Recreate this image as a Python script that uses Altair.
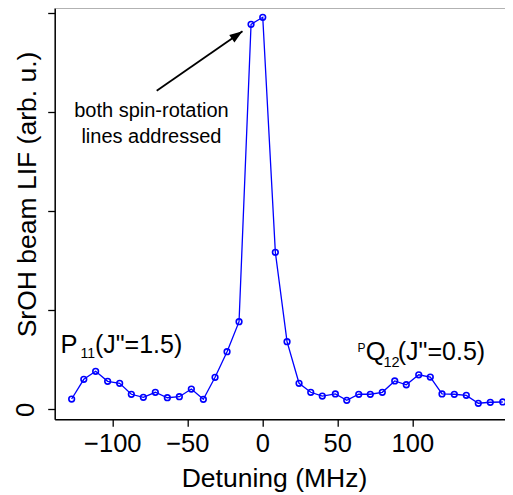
import math
import altair as alt
import pandas as pd

# ---------------- data ----------------
detuning = [-127.1, -119.0, -111.1, -103.1, -95.1, -87.3, -79.3, -71.3, -63.3, -55.3,
            -47.3, -39.3, -31.5, -23.5, -15.5, -7.5, 0.3, 8.7, 16.5, 24.5,
            32.3, 40.0, 48.7, 56.3, 64.3, 72.0, 80.0, 88.3, 96.0, 104.3,
            112.0, 119.8, 128.0, 136.0, 144.0, 152.0, 160.3]
lif = [0.104, 0.303, 0.384, 0.283, 0.263, 0.152, 0.121, 0.172, 0.117, 0.127,
       0.205, 0.101, 0.323, 0.582, 0.885, 3.889, 3.960, 1.586, 0.683, 0.263,
       0.172, 0.134, 0.155, 0.091, 0.152, 0.152, 0.172, 0.286, 0.248, 0.349,
       0.326, 0.155, 0.152, 0.141, 0.061, 0.071, 0.074]

x_ticks = [-100, -50, 0, 50, 100]
y_ticks = [0, 1, 2, 3, 4]

# annotation texts (positions in data units)
label_text = ["P", "11", "(J\"=1.5)", "P", "Q", "12", "(J\"=0.5)",
              "both spin-rotation", "lines addressed"]
label_x = [-134.6, -121.2, -111.6, 63.4, 68.9, 80.8, 90.3, -73.9, -73.9]
label_y = [0.566, 0.515, 0.566, 0.582, 0.498, 0.430, 0.498, 2.950, 2.687]
label_size = [25.5, 14, 25, 12, 25.5, 14.5, 25, 20, 20]
label_align = ["left"] * 7 + ["center"] * 2

arrow_start = [-70.4, 3.218]
arrow_tip = [-13.2, 3.819]

X_DOMAIN = [-138.4, 161.8]
Y_DOMAIN = [-0.101, 4.054]
W, H = 450.3, 411.3
FONT = "Liberation Sans"
BLUE = "#0000ff"

df = pd.DataFrame({"d": detuning, "s": lif})
lab = pd.DataFrame({"x": label_x, "y": label_y, "t": label_text,
                    "fs": label_size, "al": label_align})

xs = alt.Scale(domain=X_DOMAIN, nice=False, zero=False)
ys = alt.Scale(domain=Y_DOMAIN, nice=False, zero=False)

x_axis = alt.Axis(values=x_ticks, title="Detuning (MHz)", grid=False,
                  labelFont=FONT, labelFontSize=25.5, labelColor="black",
                  labelPadding=25.4, labelBaseline="alphabetic", labelFlush=False,
                  labelOverlap=False,
                  tickSize=7, tickColor="black", tickWidth=1.3,
                  domainColor="black", domainWidth=1.5,
                  titleFont=FONT, titleFontSize=26.5, titleFontWeight="normal",
                  titleColor="black", titleX=219.3, titleY=67.5,
                  titleAlign="center", titleBaseline="alphabetic")
y_axis = alt.Axis(values=y_ticks, labelExpr="datum.value == 0 ? '0' : ''",
                  title="SrOH beam LIF (arb. u.)", grid=False,
                  labelFont=FONT, labelFontSize=25.5, labelColor="black",
                  labelAngle=270, labelAlign="center", labelBaseline="alphabetic",
                  labelPadding=14.4, labelFlush=False, labelOverlap=False,
                  tickSize=7, tickColor="black", tickWidth=1.3,
                  domainColor="black", domainWidth=1.5,
                  titleFont=FONT, titleFontSize=26.5, titleFontWeight="normal",
                  titleColor="black", titleAngle=270, titleX=-19.5, titleY=186,
                  titleAlign="center", titleBaseline="alphabetic")


def X(field):
    return alt.X(field, type="quantitative", scale=xs, axis=x_axis)


def Y(field):
    return alt.Y(field, type="quantitative", scale=ys, axis=y_axis)


line = alt.Chart(df).mark_line(color=BLUE, strokeWidth=1.3).encode(
    x=X("d"), y=Y("s"))
pts = alt.Chart(df).mark_point(shape="circle", filled=False, color=BLUE,
                               size=32, strokeWidth=1.6, opacity=1).encode(
    x=X("d"), y=Y("s"))

texts = []
for al in ["left", "center"]:
    texts.append(
        alt.Chart(lab[lab["al"] == al]).mark_text(
            font=FONT, color="black", align=al, baseline="alphabetic").encode(
            x=X("x"), y=Y("y"), text="t:N",
            size=alt.Size("fs:Q", scale=None),
        )
    )

arr = pd.DataFrame({"x": [arrow_start[0]], "y": [arrow_start[1]],
                    "x2": [arrow_tip[0]], "y2": [arrow_tip[1]]})
px_per_x = W / (X_DOMAIN[1] - X_DOMAIN[0])
px_per_y = H / (Y_DOMAIN[1] - Y_DOMAIN[0])
ang = math.degrees(math.atan2(-(arrow_tip[1] - arrow_start[1]) * px_per_y,
                              (arrow_tip[0] - arrow_start[0]) * px_per_x)) % 360
shaft = alt.Chart(arr).mark_rule(color="black", strokeWidth=1.8).encode(
    x=X("x"), y=Y("y"), x2="x2:Q", y2="y2:Q")
head = alt.Chart(arr).mark_point(shape="M0,0L-2,-0.7L-2,0.7Z", filled=True,
                                 color="black", size=169, angle=ang, opacity=1).encode(
    x=X("x2"), y=Y("y2"))
top = alt.Chart(arr).mark_rule(color="#888888", strokeWidth=1.2).encode(
    x=alt.value(0), x2=alt.value(W), y=alt.value(0))

chart = alt.layer(line, pts, *texts, shaft, head, top).properties(
    width=W, height=H,
    autosize=alt.AutoSizeParams(type="none"),
    padding={"left": 46.7, "top": 0, "right": 0, "bottom": 75.7},
).configure_view(stroke=None).configure(background="white")

chart.save("out.html", embed_options={"renderer": "svg", "actions": False})
